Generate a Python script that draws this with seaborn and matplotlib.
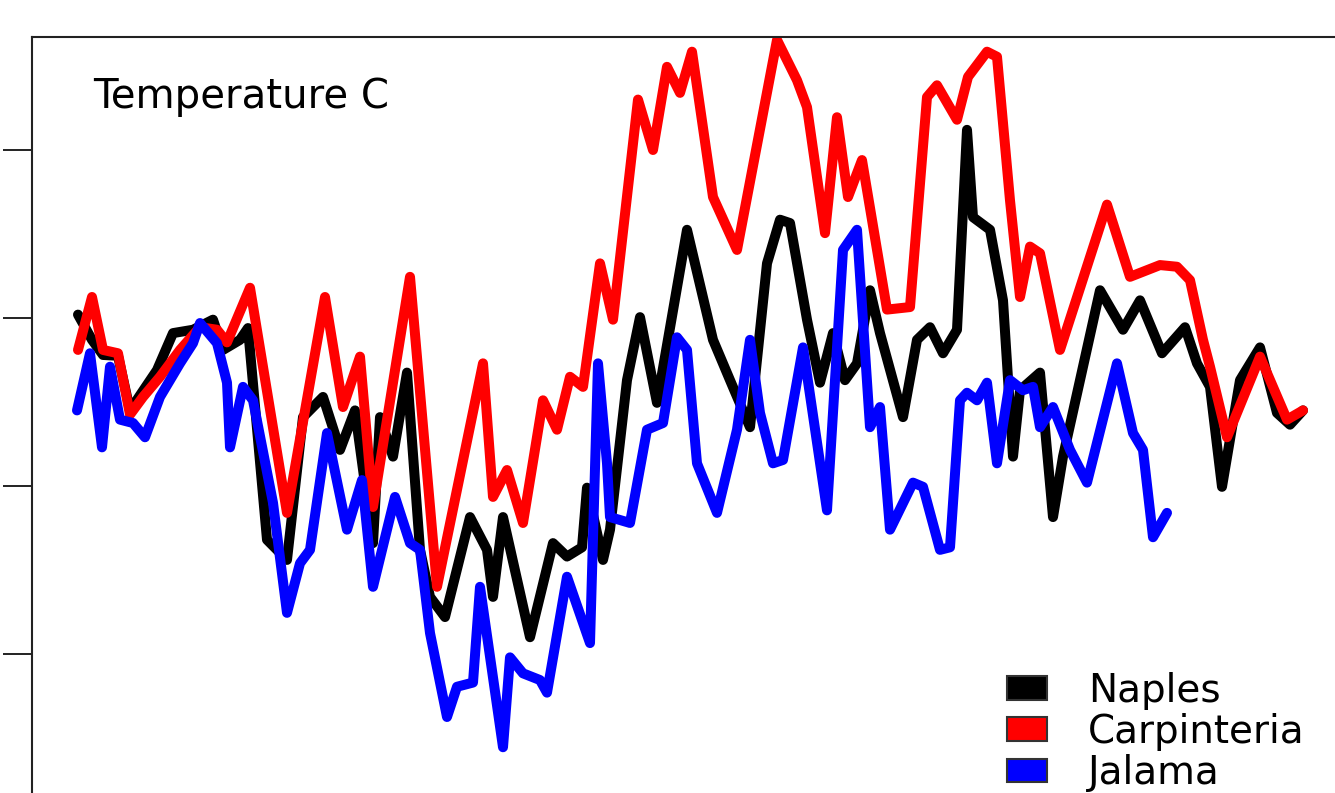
import pandas as pd
import matplotlib
matplotlib.use("Agg")
import matplotlib.pyplot as plt
from matplotlib.patches import Patch
import seaborn as sns

# Daily water temperature (C) at three sites
naples_day = [4.6, 6.0, 7.1, 8.6, 9.8, 10.8, 12.5, 14.1, 16.1, 18.1,
              19.1, 20.8, 21.6, 23.5, 25.5, 27.1, 29.1, 30.8, 32.3, 34.1,
              34.8, 36.1, 37.5, 38.8, 39.8, 41.3, 43.8, 45.5, 46.1, 47.1,
              49.8, 52.1, 53.5, 55.0, 55.5, 57.1, 57.8, 59.5, 60.8, 62.5,
              65.5, 68.1, 69.8, 71.8, 73.5, 74.8, 75.8, 77.5, 78.8, 80.1,
              81.3, 82.5, 83.8, 84.8, 87.1, 88.5, 89.8, 91.1, 92.5, 93.5,
              94.1, 95.8, 97.1, 98.1, 98.8, 100.8, 102.1, 103.1, 106.8, 109.1,
              110.8, 113.0, 115.3, 116.5, 117.8, 119.0, 120.8, 122.8, 124.5, 125.8,
              127.1]
naples_temp = [16.04, 15.74, 15.56, 15.55, 14.90, 15.08, 15.38, 15.82, 15.86, 15.98,
               15.62, 15.74, 15.88, 13.36, 13.12, 14.82, 15.06, 14.43, 14.90, 13.32,
               14.82, 14.35, 15.35, 13.24, 12.68, 12.44, 13.63, 13.24, 12.68, 13.63,
               12.20, 13.32, 13.16, 13.27, 13.98, 13.12, 13.48, 15.26, 16.01, 14.99,
               17.05, 15.74, 15.26, 14.70, 16.65, 17.17, 17.13, 15.98, 15.23, 15.82,
               15.26, 15.46, 16.33, 15.82, 14.82, 15.74, 15.89, 15.58, 15.86, 18.24,
               17.20, 17.05, 16.21, 14.35, 15.14, 15.35, 13.63, 14.35, 16.33, 15.86,
               16.21, 15.58, 15.89, 15.46, 15.18, 13.99, 15.26, 15.65, 14.87, 14.73,
               14.90]

carp_day = [4.6, 6.0, 7.1, 8.6, 9.8, 11.1, 12.8, 14.8, 16.8, 18.5,
            19.5, 21.8, 25.5, 29.3, 31.1, 32.8, 34.1, 37.8, 40.5, 45.1,
            46.1, 47.5, 49.1, 51.1, 52.5, 53.8, 55.1, 56.8, 58.1, 60.6,
            62.1, 63.5, 64.8, 66.0, 68.1, 70.5, 74.5, 76.5, 77.5, 79.3,
            80.5, 81.6, 83.0, 85.5, 87.8, 89.5, 90.5, 92.5, 93.6, 95.5,
            96.5, 97.8, 98.8, 99.8, 100.8, 102.8, 107.5, 109.8, 112.8, 114.5,
            115.8, 117.1, 117.8, 119.5, 122.8, 125.5, 127.1]
carp_temp = [15.62, 16.25, 15.62, 15.58, 14.85, 15.06, 15.30, 15.62, 15.89, 15.86,
             15.71, 16.36, 13.68, 16.25, 14.94, 15.54, 13.75, 16.49, 12.80, 15.46,
             13.87, 14.19, 13.56, 15.02, 14.67, 15.30, 15.18, 16.65, 15.98, 18.60,
             18.00, 18.99, 18.68, 19.17, 17.44, 16.81, 19.31, 18.83, 18.51, 17.01,
             18.39, 17.44, 17.88, 16.10, 16.13, 18.63, 18.77, 18.36, 18.87, 19.17,
             19.11, 17.40, 16.25, 16.85, 16.77, 15.62, 17.35, 16.49, 16.63, 16.61,
             16.45, 15.74, 15.42, 14.58, 15.54, 14.79, 14.90]

jalama_day = [4.5, 5.8, 7.0, 7.8, 8.8, 10.1, 11.3, 12.8, 14.8, 16.1,
              16.8, 18.5, 19.5, 19.8, 21.1, 22.1, 24.1, 25.5, 26.8, 27.8,
              29.5, 31.5, 33.0, 34.1, 36.3, 37.8, 38.8, 39.8, 41.5, 42.5,
              44.1, 44.8, 47.1, 47.8, 49.1, 50.8, 51.5, 53.5, 55.8, 56.6,
              57.5, 57.8, 59.8, 61.5, 63.1, 64.5, 65.5, 66.5, 68.5, 70.5,
              71.8, 72.8, 74.1, 75.1, 77.1, 79.5, 81.1, 82.5, 83.8, 84.8,
              85.8, 88.1, 89.1, 90.8, 91.8, 92.8, 93.5, 94.5, 95.5, 96.5,
              97.8, 99.1, 100.1, 100.8, 102.1, 103.8, 105.5, 108.5, 110.1, 111.1,
              112.1, 113.5]
jalama_temp = [14.90, 15.58, 14.46, 15.42, 14.79, 14.75, 14.58, 15.06, 15.46, 15.70,
               15.94, 15.70, 15.23, 14.46, 15.18, 15.02, 13.80, 12.49, 13.08, 13.24,
               14.63, 13.48, 14.07, 12.80, 13.87, 13.32, 13.24, 12.25, 11.25, 11.61,
               11.66, 12.80, 10.89, 11.96, 11.77, 11.69, 11.54, 12.92, 12.13, 15.46,
               14.27, 13.63, 13.56, 14.67, 14.75, 15.77, 15.62, 14.27, 13.68, 14.67,
               15.74, 14.87, 14.27, 14.31, 15.65, 13.71, 16.81, 17.05, 14.70, 14.94,
               13.48, 14.04, 13.99, 13.24, 13.27, 15.02, 15.11, 15.02, 15.23, 14.27,
               15.26, 15.14, 15.18, 14.70, 14.94, 14.43, 14.04, 15.46, 14.63, 14.43,
               13.39, 13.68]

sites = ["Naples", "Carpinteria", "Jalama"]
site_colors = ["black", "red", "blue"]
y_ticks = [12, 14, 16, 18]

# Long-form table for seaborn
df = pd.concat([
    pd.DataFrame({"day": naples_day, "temp": naples_temp, "site": "Naples"}),
    pd.DataFrame({"day": carp_day, "temp": carp_temp, "site": "Carpinteria"}),
    pd.DataFrame({"day": jalama_day, "temp": jalama_temp, "site": "Jalama"}),
], ignore_index=True)

sns.set_style("white")
plt.rcParams["font.family"] = ["DejaVu Sans"]

W, H = 1335, 793
fig = plt.figure(figsize=(W / 100, H / 100), dpi=100)
# axes box runs off the right and bottom edges, as in the cropped original
ax = fig.add_axes([32 / W, -17 / H, 1313 / W, 773 / H])

sns.lineplot(data=df, x="day", y="temp", hue="site", hue_order=sites,
             palette=site_colors, estimator=None, sort=False,
             linewidth=7.2, legend=False, ax=ax,
             solid_capstyle="round", solid_joinstyle="round")

ax.set_xlim(0, 131.3)
ax.set_ylim(10.143, 19.345)
ax.set_yticks(y_ticks)
ax.set_xticks([])
ax.tick_params(axis="y", direction="out", length=21, width=1.4,
               color="#222222", labelleft=False, left=True)
for side in ["left", "top"]:
    ax.spines[side].set_color("#222222")
    ax.spines[side].set_linewidth(1.5)
ax.set_xlabel("")
ax.set_ylabel("")

fig.text(93 / W, (H - 108) / H, "Temperature C", fontsize=29,
         color="black", va="baseline", ha="left")

handles = [Patch(facecolor=c, edgecolor="#333333", linewidth=1.5) for c in site_colors]
leg = ax.legend(handles, sites, loc="upper left",
                bbox_to_anchor=(1007 / W, (H - 672) / H),
                bbox_transform=fig.transFigure, frameon=False, fontsize=28,
                handlelength=1.03, handleheight=0.57, handletextpad=1.05,
                labelspacing=0.08, borderpad=0, borderaxespad=0)
for t in leg.get_texts():
    t.set_color("black")

fig.savefig("out.png", dpi=100)
